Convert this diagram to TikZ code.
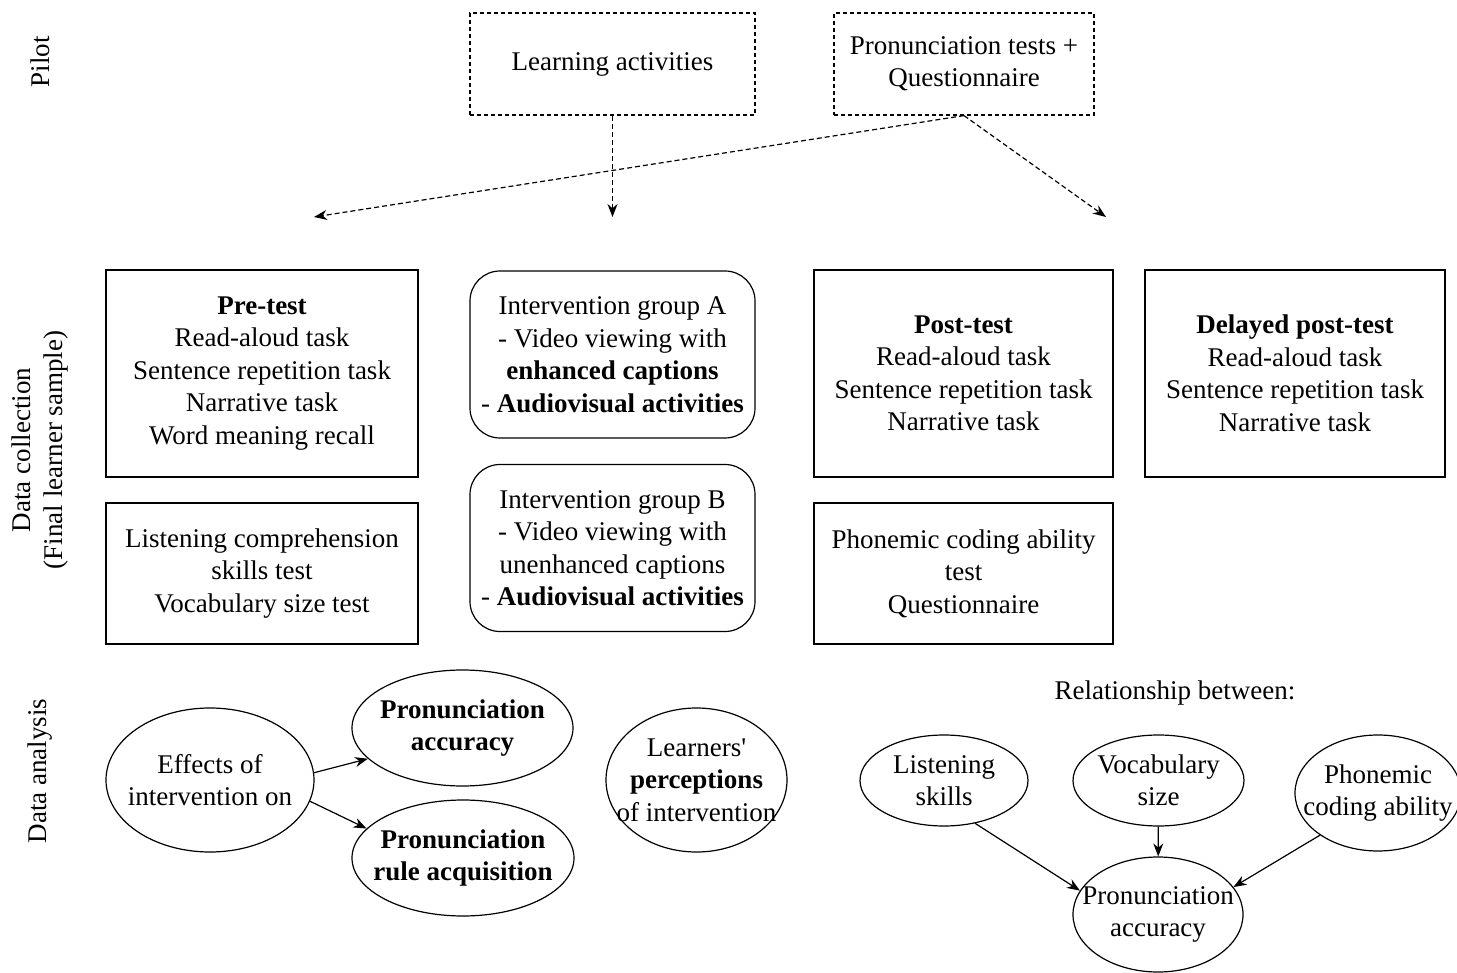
\documentclass[tikz,border=0pt]{standalone}
\usepackage{fontspec}
\setmainfont{Liberation Serif}
\usetikzlibrary{shapes.geometric,arrows.meta}

\begin{document}
\begin{tikzpicture}[x=1pt,y=-1pt,
        every node/.style={font=\fontsize{27}{32.5}\selectfont, align=center},
        pilotbox/.style={draw, line width=1.2pt, dash pattern=on 4pt off 3pt, inner sep=0pt, minimum width=285pt, minimum height=102pt},
        testbox/.style={draw, line width=2.6pt, inner sep=0pt, minimum width=312pt, minimum height=207pt},
        infobox/.style={draw, line width=1.2pt, inner sep=0pt, minimum width=312pt, minimum height=141pt},
        groupbox/.style={draw, line width=1.2pt, rounded corners=30pt, inner sep=0pt, minimum width=285pt, minimum height=167pt},
        oval/.style={draw, ellipse, line width=1.2pt, inner sep=-30pt},
        arr/.style={line width=1.2pt, -{Stealth[length=13pt,width=10pt]}},
        dasharr/.style={arr, dash pattern=on 5pt off 3pt}]
            \useasboundingbox (0,0) rectangle (1457,973);

            % row labels
            \node[rotate=90] (pilot) at (40,62) {Pilot};
            \node[rotate=90] (collection) at (40,450) {Data collection\\(Final learner sample)};
            \node[rotate=90] (analysis) at (40,771) {Data analysis};

            % pilot
            \node[pilotbox] (learn) at (612.5,64) {Learning activities};
            \node[pilotbox, minimum width=260pt] (prontests) at (964,64) {Pronunciation tests +\\Questionnaire};
            \coordinate (topre) at (314,217);
            \coordinate (tointerv) at (612.5,217);
            \coordinate (topost) at (1106,217);

            \draw[dasharr] (learn) to (tointerv);
            \draw[dasharr] (prontests.south) to (topre); \draw[dasharr] (prontests.south) to (topost);

            % data collection
            \node[testbox] (pretest) at (262,373.5) {\textbf{Pre-test}\\Read-aloud task\\Sentence repetition task\\Narrative task\\Word meaning recall};
            \node[infobox] (listening) at (262,573.5) {Listening comprehension\\skills test\\Vocabulary size test};
            \node[groupbox] (groupa) at (612.5,354.5) {Intervention group A\\- Video viewing with\\\textbf{enhanced captions}\\- \textbf{Audiovisual activities}};
            \node[groupbox] (groupb) at (612.5,548) {Intervention group B\\- Video viewing with\\unenhanced captions\\- \textbf{Audiovisual activities}};
            \node[testbox, minimum width=299pt] (posttest) at (963.5,373.5) {\textbf{Post-test}\\Read-aloud task\\Sentence repetition task\\Narrative task};
            \node[testbox, minimum width=300pt] (delayed) at (1295,373.5) {\textbf{Delayed post-test}\\Read-aloud task\\Sentence repetition task\\Narrative task};
            \node[infobox, minimum width=299pt] (phonemic) at (963.5,573.5) {Phonemic coding ability\\test\\Questionnaire};

            % data analysis
            \node[oval, minimum width=208pt, minimum height=144pt] (effects) at (210,780) {Effects of\\intervention on};
            \node[oval, minimum width=221pt, minimum height=116pt] (accuracy) at (462.5,728) {\textbf{Pronunciation}\\\textbf{accuracy}};
            \node[oval, minimum width=222pt, minimum height=116pt] (rule) at (463,858) {\textbf{Pronunciation}\\\textbf{rule acquisition}};
            \node[oval, minimum width=181pt, minimum height=144pt] (percept) at (696.5,780) {Learners\textquotesingle\\\textbf{perceptions}\\of intervention};

            \node (relation) at (1175,693) {Relationship between:};
            \node[oval, minimum width=168pt, minimum height=91pt] (lskills) at (944,780.5) {Listening\\skills};
            \node[oval, minimum width=171pt, minimum height=91pt] (vsize) at (1158.5,780.5) {Vocabulary\\size};
            \node[oval, minimum width=166pt, minimum height=116pt] (pcoding) at (1378,793) {Phonemic\\coding ability};
            \node[oval, minimum width=170pt, minimum height=115pt] (pacc) at (1158,914.5) {Pronunciation\\accuracy};

            \draw[arr] (effects.4) to (accuracy.198); \draw[arr] (effects.-12) to (rule.163);
            \draw[arr] (lskills.-54) to (pacc.163); \draw[arr] (vsize) to (pacc); \draw[arr] (pcoding.216) to (pacc.20);
        \end{tikzpicture}
\end{document}
